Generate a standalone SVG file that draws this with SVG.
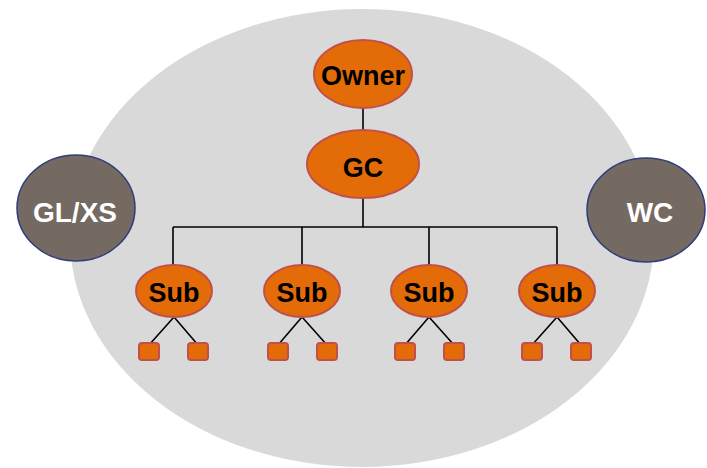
<svg xmlns="http://www.w3.org/2000/svg" width="707" height="468" viewBox="0 0 707 468">
<style>
.org{fill:#E36C09;stroke:#C0504D;stroke-width:2}
.ext{fill:#756A61;stroke:#2E3D7C;stroke-width:1.5}
.t{font-family:"Liberation Sans",Arial,sans-serif;font-weight:bold;font-size:27px;text-anchor:middle}
.dk{fill:#000}
.wt{fill:#fff;font-size:28px}
.ln{stroke:#000;stroke-width:1.6;fill:none}
</style>
<rect width="707" height="468" fill="#fff"/>
<ellipse id="field" cx="362" cy="238" rx="292" ry="229" fill="#D9D9D9"/>
<g id="connectors">
<path class="ln" d="M363 108V130M363 198V227M173 227H557M173 227V265M302 227V265M429 227V265M557 227V265"/>
<path class="ln" d="M174 317L149 345M174 317L198 345M302 317L278 345M302 317L327 345M429 317L405 345M429 317L454 345M557 317L532 345M557 317L581 345"/>
</g>
<g id="owner"><ellipse class="org" cx="363" cy="74" rx="49" ry="34"/><text class="t dk" x="363" y="85">Owner</text></g>
<g id="gc"><ellipse class="org" cx="363" cy="164" rx="56" ry="34"/><text class="t dk" x="363" y="177">GC</text></g>
<g id="sub1"><ellipse class="org" cx="174" cy="291" rx="38" ry="26"/><text class="t dk" x="174" y="302">Sub</text></g>
<g id="sub2"><ellipse class="org" cx="302" cy="291" rx="38" ry="26"/><text class="t dk" x="302" y="302">Sub</text></g>
<g id="sub3"><ellipse class="org" cx="429" cy="291" rx="38" ry="26"/><text class="t dk" x="429" y="302">Sub</text></g>
<g id="sub4"><ellipse class="org" cx="557" cy="291" rx="38" ry="26"/><text class="t dk" x="557" y="302">Sub</text></g>
<g id="w1"><rect class="org" x="139" y="343" width="20" height="17" rx="3"/></g>
<g id="w2"><rect class="org" x="188" y="343" width="20" height="17" rx="3"/></g>
<g id="w3"><rect class="org" x="268" y="343" width="20" height="17" rx="3"/></g>
<g id="w4"><rect class="org" x="317" y="343" width="20" height="17" rx="3"/></g>
<g id="w5"><rect class="org" x="395" y="343" width="20" height="17" rx="3"/></g>
<g id="w6"><rect class="org" x="444" y="343" width="20" height="17" rx="3"/></g>
<g id="w7"><rect class="org" x="522" y="343" width="20" height="17" rx="3"/></g>
<g id="w8"><rect class="org" x="571" y="343" width="20" height="17" rx="3"/></g>
<g id="glxs"><ellipse class="ext" cx="76" cy="208" rx="59" ry="53"/><text class="t wt" x="75" y="222">GL/XS</text></g>
<g id="wc"><ellipse class="ext" cx="646" cy="210" rx="59" ry="52"/><text class="t wt" x="650" y="222">WC</text></g>
</svg>
